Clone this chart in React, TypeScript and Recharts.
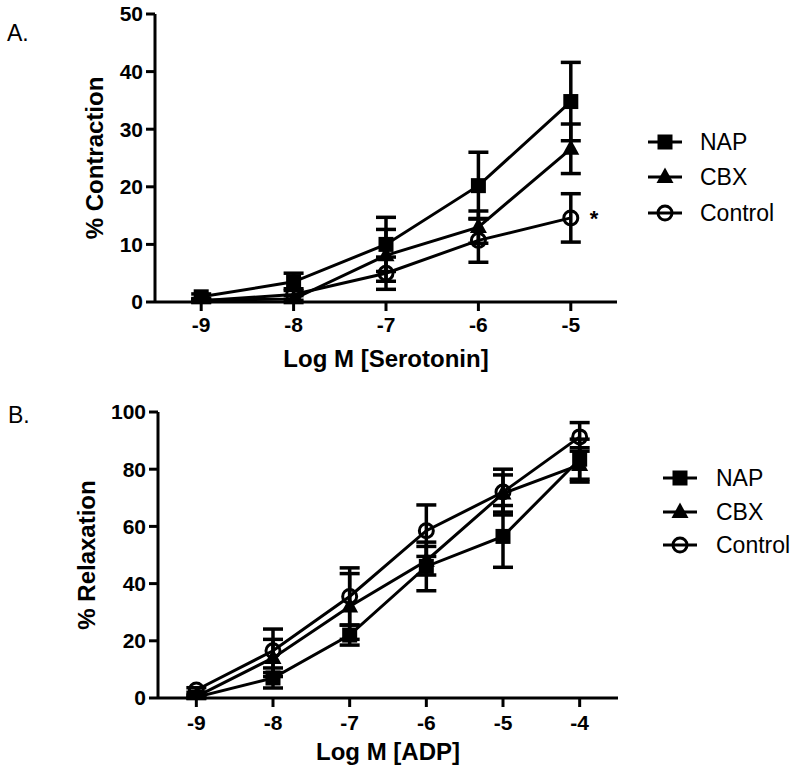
import React from 'react';
import { LineChart, Line, XAxis, YAxis, ErrorBar, ReferenceDot, Label } from 'recharts';

const FONT = '"Liberation Sans", Arial, Helvetica, sans-serif';

// Panel A: Serotonin contraction
const serotoninLogM = [-9, -8, -7, -6, -5];
const napContraction = [0.9, 3.5, 10.0, 20.2, 34.8];
const napContractionErr = [0.5, 1.5, 4.7, 5.8, 6.8];
const cbxContraction = [0.3, 0.5, 8.1, 13.0, 26.6];
const cbxContractionErr = [0.3, 0.6, 4.5, 2.8, 4.3];
const controlContraction = [0.2, 1.3, 5.0, 10.7, 14.6];
const controlContractionErr = [0.3, 1.0, 2.8, 3.8, 4.2];
const contractionTicks = [0, 10, 20, 30, 40, 50];
const serotoninTicks = [-9, -8, -7, -6, -5];

// Panel B: ADP relaxation
const adpLogM = [-9, -8, -7, -6, -5, -4];
const napRelaxation = [0.3, 7.0, 22.0, 46.0, 56.5, 83.5];
const napRelaxationErr = [0.5, 3.5, 3.5, 8.5, 10.8, 7.0];
const cbxRelaxation = [0.5, 14.0, 32.0, 48.0, 71.5, 81.5];
const cbxRelaxationErr = [0.5, 6.5, 11.5, 5.0, 6.5, 6.0];
const controlRelaxation = [2.8, 16.5, 35.5, 58.5, 72.0, 91.3];
const controlRelaxationErr = [0.8, 7.6, 10.0, 9.0, 8.0, 5.0];
const relaxationTicks = [0, 20, 40, 60, 80, 100];
const adpTicks = [-9, -8, -7, -6, -5, -4];

const seriesNames = ['NAP', 'CBX', 'Control'];

const dataA = serotoninLogM.map((x, i) => ({
  x,
  nap: napContraction[i], napErr: napContractionErr[i],
  cbx: cbxContraction[i], cbxErr: cbxContractionErr[i],
  control: controlContraction[i], controlErr: controlContractionErr[i],
}));

const dataB = adpLogM.map((x, i) => ({
  x,
  nap: napRelaxation[i], napErr: napRelaxationErr[i],
  cbx: cbxRelaxation[i], cbxErr: cbxRelaxationErr[i],
  control: controlRelaxation[i], controlErr: controlRelaxationErr[i],
}));

const SquareDot = (p: any) => {
  if (p.cx == null || p.cy == null) return <g key={`s-${p.index}`} />;
  return <rect key={`s-${p.index}`} x={p.cx - 7.5} y={p.cy - 7.5} width={15} height={15} fill="#000" />;
};
const TriangleDot = (p: any) => {
  if (p.cx == null || p.cy == null) return <g key={`t-${p.index}`} />;
  const { cx, cy } = p;
  return (
    <polygon
      key={`t-${p.index}`}
      points={`${cx},${cy - 9.5} ${cx - 8.5},${cy + 6} ${cx + 8.5},${cy + 6}`}
      fill="#000"
    />
  );
};
const CircleDot = (p: any) => {
  if (p.cx == null || p.cy == null) return <g key={`c-${p.index}`} />;
  return <circle key={`c-${p.index}`} cx={p.cx} cy={p.cy} r={7} fill="none" stroke="#000" strokeWidth={3} />;
};

const dotShapes = [SquareDot, TriangleDot, CircleDot];
const seriesKeys = ['nap', 'cbx', 'control'];

const tickStyle = { fill: '#000', fontSize: 21, fontWeight: 700, fontFamily: FONT };
const titleStyle = { fill: '#000', fontSize: 24, fontWeight: 700, fontFamily: FONT };
const axisStroke = { stroke: '#000', strokeWidth: 3 };

function LegendIcon({ idx }: { idx: number }) {
  const cx = 17;
  const cy = 15;
  return (
    <svg width={34} height={30} style={{ display: 'block' }}>
      <line x1={0} y1={cy} x2={34} y2={cy} stroke="#000" strokeWidth={3} />
      {idx === 0 && <rect x={cx - 7.5} y={cy - 7.5} width={15} height={15} fill="#000" />}
      {idx === 1 && (
        <polygon points={`${cx},${cy - 9.5} ${cx - 8.5},${cy + 6} ${cx + 8.5},${cy + 6}`} fill="#000" />
      )}
      {idx === 2 && <circle cx={cx} cy={cy} r={7} fill="none" stroke="#000" strokeWidth={3} />}
    </svg>
  );
}

function LegendBlock({ left, rows, gap }: { left: number; rows: number[]; gap: number }) {
  return (
    <>
      {seriesNames.map((name, i) => (
        <div
          key={name}
          style={{
            position: 'absolute',
            left,
            top: rows[i] - 15,
            height: 30,
            display: 'flex',
            alignItems: 'center',
            fontFamily: FONT,
            fontSize: 23,
            color: '#000',
            whiteSpace: 'nowrap',
          }}
        >
          <LegendIcon idx={i} />
          <span style={{ marginLeft: gap, lineHeight: '30px' }}>{name}</span>
        </div>
      ))}
    </>
  );
}

function renderSeries() {
  return seriesKeys.map((k, i) => (
    <Line
      key={k}
      dataKey={k}
      name={seriesNames[i]}
      stroke="#000"
      strokeWidth={3}
      dot={dotShapes[i]}
      activeDot={false}
      isAnimationActive={false}
    >
      <ErrorBar dataKey={`${k}Err`} width={10} stroke="#000" strokeWidth={3.5} direction="y" />
    </Line>
  ));
}

export default function App() {
  return (
    <div style={{ position: 'absolute', left: 0, top: 0, width: 800, height: 770, background: '#fff' }}>
      <div style={{ position: 'absolute', left: 0, top: 0 }}>
        <LineChart width={800} height={380} data={dataA} margin={{ top: 14, right: 183, left: 0, bottom: 8 }}>
          <XAxis
            dataKey="x"
            type="number"
            domain={[-9.5, -4.5]}
            ticks={serotoninTicks}
            allowDataOverflow
            height={70}
            tick={tickStyle}
            tickSize={9}
            tickMargin={6}
            axisLine={axisStroke}
            tickLine={axisStroke}
          >
            <Label value="Log M [Serotonin]" position="insideBottom" offset={5} style={titleStyle} />
          </XAxis>
          <YAxis
            type="number"
            domain={[0, 50]}
            ticks={contractionTicks}
            allowDataOverflow
            width={155}
            tick={tickStyle}
            tickSize={9}
            tickMargin={3}
            axisLine={axisStroke}
            tickLine={axisStroke}
          >
            <Label value="% Contraction" angle={-90} position="center" dx={17} style={titleStyle} />
          </YAxis>
          {renderSeries()}
          <ReferenceDot
            x={serotoninLogM[4]}
            y={controlContraction[4]}
            r={0}
            fill="none"
            stroke="none"
            label={{ value: '*', position: 'right', offset: 19, style: { fill: '#000', fontSize: 22, fontWeight: 700, fontFamily: FONT } }}
          />
        </LineChart>
      </div>
      <div style={{ position: 'absolute', left: 0, top: 390 }}>
        <LineChart width={800} height={380} data={dataB} margin={{ top: 22, right: 182, left: 0, bottom: 6 }}>
          <XAxis
            dataKey="x"
            type="number"
            domain={[-9.5, -3.5]}
            ticks={adpTicks}
            allowDataOverflow
            height={66}
            tick={tickStyle}
            tickSize={9}
            tickMargin={8}
            axisLine={axisStroke}
            tickLine={axisStroke}
          >
            <Label value="Log M [ADP]" position="insideBottom" offset={4} style={titleStyle} />
          </XAxis>
          <YAxis
            type="number"
            domain={[0, 100]}
            ticks={relaxationTicks}
            allowDataOverflow
            width={158}
            tick={tickStyle}
            tickSize={9}
            tickMargin={3}
            axisLine={axisStroke}
            tickLine={axisStroke}
          >
            <Label value="% Relaxation" angle={-90} position="center" dx={7.5} style={titleStyle} />
          </YAxis>
          {renderSeries()}
        </LineChart>
      </div>
      <div style={{ position: 'absolute', left: 7, top: 18, fontFamily: FONT, fontSize: 23, lineHeight: '30px', color: '#000' }}>A.</div>
      <div style={{ position: 'absolute', left: 8, top: 400, fontFamily: FONT, fontSize: 23, lineHeight: '30px', color: '#000' }}>B.</div>
      <LegendBlock left={648} rows={[142, 177, 213]} gap={18} />
      <LegendBlock left={663} rows={[478, 512, 545]} gap={19} />
    </div>
  );
}
